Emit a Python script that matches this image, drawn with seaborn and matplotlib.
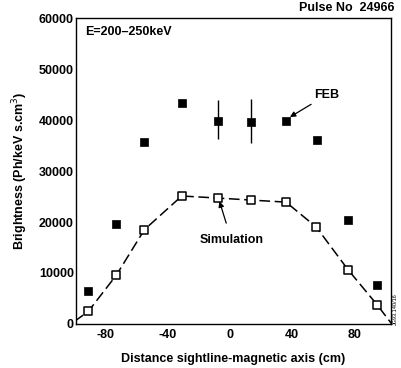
import matplotlib
matplotlib.use("Agg")
import matplotlib.pyplot as plt
import seaborn as sns
import pandas as pd
import numpy as np

# Data
feb_x = [-91, -73, -55, -31, -8, 13.5, 36, 56, 76, 94.5]
feb_y = [6500, 19600, 35600, 43300, 39900, 39600, 39800, 36100, 20400, 7700]
err_x = [-8, 13.5]
err_y = [39900, 39600]
err_lo = [3700, 4200]
err_hi = [4100, 4600]

sim_x = [-91, -73, -55, -31, -8, 13.5, 36, 55.5, 76, 94.5]
sim_y = [2500, 9600, 18500, 25100, 24700, 24300, 23900, 19000, 10600, 3800]
curve_x = [-100, -91, -73, -55, -31, -8, 13.5, 36, 55.5, 76, 94.5, 104]
curve_y = [500, 2500, 9600, 18500, 25100, 24700, 24300, 23900, 19000, 10600, 3800, 0]

xticks = [-80, -60, -40, -20, 0, 20, 40, 60, 80, 100]
xlabels = ["-80", "", "-40", "", "0", "", "40", "", "80", ""]
yticks = [0, 10000, 20000, 30000, 40000, 50000, 60000]

sns.set_style("white")
plt.rcParams['font.family'] = ['Liberation Sans', 'DejaVu Sans']
plt.rcParams['text.color'] = 'black'
plt.rcParams['axes.labelcolor'] = 'black'

fig = plt.figure(figsize=(4.01, 3.68), dpi=100)
ax = fig.add_axes([0.1895, 0.1196, 0.7855, 0.8314])

feb = pd.DataFrame({"x": feb_x, "y": feb_y})
sim = pd.DataFrame({"x": sim_x, "y": sim_y})
curve = pd.DataFrame({"x": curve_x, "y": curve_y})

sns.lineplot(data=curve, x="x", y="y", ax=ax, color="black", lw=1.1,
             linestyle=(0, (7, 3)), sort=False)
ax.errorbar(err_x, err_y, yerr=[err_lo, err_hi], fmt="none", ecolor="black",
            elinewidth=1.0, capsize=0)
sns.scatterplot(data=feb, x="x", y="y", ax=ax, marker="s", color="black",
                s=36, edgecolor="black", linewidth=0.5, zorder=5)
sns.scatterplot(data=sim, x="x", y="y", ax=ax, marker="s", color="white",
                s=34, edgecolor="black", linewidth=1.1, zorder=5)

ax.set_xlim(-99, 103.5)
ax.set_ylim(0, 60000)
ax.set_xticks(xticks)
ax.set_xticklabels(xlabels)
ax.set_yticks(yticks)
ax.set_yticklabels([str(v) for v in yticks])
ax.tick_params(direction="in", length=5, width=1, labelsize=9, colors="black")
ax.tick_params(axis="y", direction="in", length=8, pad=1.5)
for lab in ax.get_xticklabels() + ax.get_yticklabels():
    lab.set_fontweight("bold")
for s in ax.spines.values():
    s.set_color("black")
    s.set_linewidth(1.0)

ax.set_xlabel("Distance sightline-magnetic axis (cm)", fontsize=9,
              fontweight="bold", labelpad=9)
ax.set_ylabel("Brightness (Ph/keV s.cm$^3$)", fontsize=9, fontweight="bold",
              labelpad=6)

ax.text(0.03, 0.975, "E=200\u2013250keV", transform=ax.transAxes, ha="left",
        va="top", fontsize=9, fontweight="bold")
fig.text(0.985, 0.995, "Pulse No  24966", ha="right", va="top", fontsize=9,
         fontweight="bold")

ax.annotate("FEB", xy=(37, 40300), xytext=(54, 44900), fontsize=9,
            fontweight="bold", ha="left", va="center",
            arrowprops=dict(arrowstyle="-|>", color="black", lw=0.9,
                            mutation_scale=8, shrinkA=0, shrinkB=2))
ax.annotate("Simulation", xy=(-7, 24300), xytext=(1, 16400), fontsize=9,
            fontweight="bold", ha="center", va="center",
            arrowprops=dict(arrowstyle="-|>", color="black", lw=0.9,
                            mutation_scale=8, shrinkA=6, shrinkB=1))
fig.text(0.986, 0.16, "JG93.140/16", rotation=90, fontsize=4, ha="center",
         va="center")

fig.savefig("out.png", dpi=100)
